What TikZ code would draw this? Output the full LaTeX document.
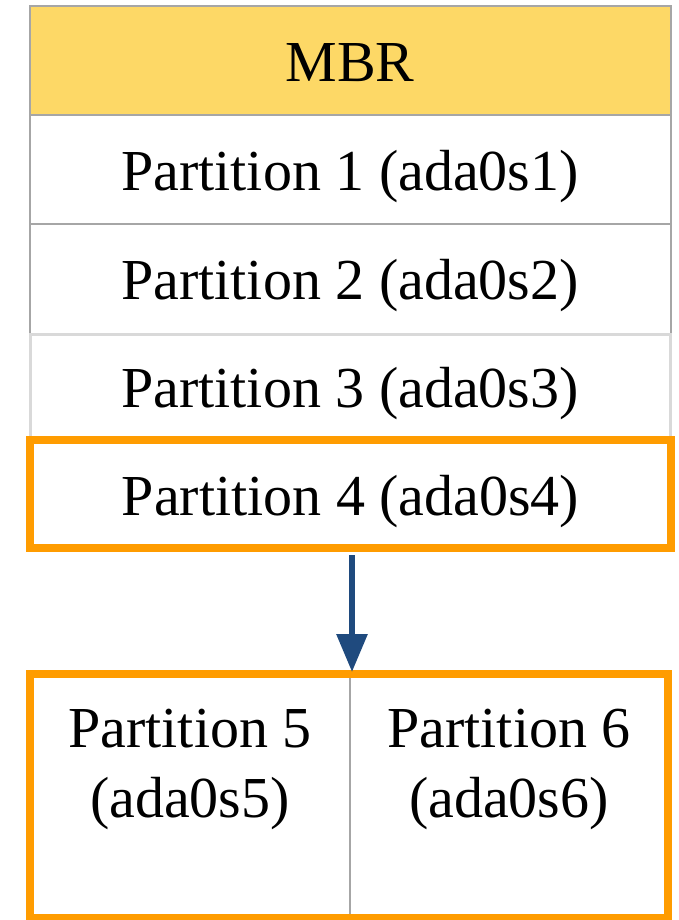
\documentclass[tikz,border=0pt]{standalone}
\usepackage{fontspec}
\setmainfont{Liberation Serif}
\usetikzlibrary{arrows.meta,positioning}
\definecolor{mbrfill}{HTML}{FDD866}
\definecolor{grayline}{HTML}{A6A6A6}
\definecolor{lightline}{HTML}{D9D9D9}
\definecolor{orangeline}{HTML}{FF9C00}
\definecolor{arrowblue}{HTML}{1F4A7E}
\tikzset{
  cell/.style={rectangle, inner sep=0pt, outer sep=0pt, font=\fontsize{58}{70}\selectfont, align=center},
  rowtext/.style={text height=42pt, text depth=0pt},
  grayrow/.style={draw=grayline, line width=2pt},
  orangebox/.style={draw=orangeline, line width=8pt},
}
\begin{document}
\begin{tikzpicture}[x=1pt,y=-1pt]
\useasboundingbox (0,0) rectangle (679,920);
% rows
\node[cell, rowtext, grayrow, fill=mbrfill, minimum width=641pt, minimum height=109pt, anchor=north west] (mbr) at (29.5,6.5) {MBR};
\node[cell, rowtext, grayrow, minimum width=641pt, minimum height=108pt, anchor=north west] (p1) at (29.5,115.5) {Partition 1 (ada0s1)};
\node[cell, rowtext, grayrow, minimum width=641pt, minimum height=110pt, anchor=north west] (p2) at (29.5,223.5) {Partition 2 (ada0s2)};
\node[cell, rowtext, draw=lightline, line width=3pt, minimum width=640pt, minimum height=104pt, anchor=north west] (p3) at (30,334) {Partition 3 (ada0s3)};
\node[cell, rowtext, orangebox, minimum width=641pt, minimum height=108pt, anchor=north west] (p4) at (30,440) {Partition 4 (ada0s4)};
% bottom box
\node[cell, minimum width=320pt, minimum height=244pt, anchor=north west] (p5) at (30,674) {};
\node[cell, minimum width=318pt, minimum height=244pt, anchor=north west] (p6) at (350,674) {};
\node[cell, anchor=north] (t5) at ([yshift=-35pt]p5.north) {Partition 5\\(ada0s5)};
\node[cell, anchor=north] (t6) at ([yshift=-35pt]p6.north) {Partition 6\\(ada0s6)};
\draw[grayline, line width=2pt] (p5.north east) -- (p5.south east);
\draw[orangeline, line width=8pt] (p5.north west) rectangle (p6.south east);
% arrow
\coordinate (astart) at (352,555);
\coordinate (aend) at (352,672);
\draw[arrowblue, line width=6pt, -{Triangle[length=38pt,width=30pt]}] (astart) -- (aend);
\end{tikzpicture}
\end{document}
